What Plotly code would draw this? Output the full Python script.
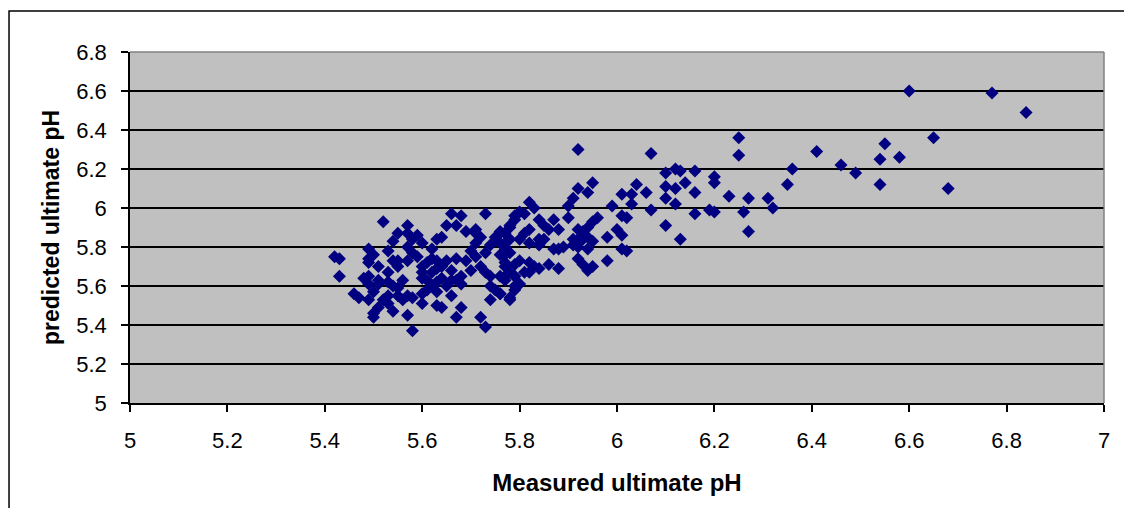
import plotly.graph_objects as go

# Measured ultimate pH (x) and predicted ultimate pH (y)
measured_ph = [
    6.60, 6.77, 6.84, 6.25, 6.25, 6.65, 6.55, 6.54, 6.58, 6.54, 6.68, 6.41, 6.46, 6.49, 6.36, 6.35,
    6.31, 6.32, 6.27, 6.26, 6.27, 6.23, 6.19, 6.20, 6.16, 6.16, 6.20, 6.20, 6.16, 6.14, 6.13, 6.13,
    5.92, 6.07, 6.12, 6.10, 6.10, 6.12, 6.10, 6.12, 6.10, 6.04, 6.06, 6.03, 6.03, 6.01, 6.07, 5.99,
    6.01, 6.02, 6.00, 6.01, 6.01, 6.02, 5.95, 5.92, 5.94, 5.91, 5.90, 5.90,
    5.82, 5.83, 5.81, 5.80, 5.79, 5.78, 5.77,
    5.87, 5.88, 5.96, 5.95, 5.94, 5.93,
    5.92, 5.94, 5.95, 5.93, 5.92, 5.91, 5.91, 5.92, 5.94, 5.98,
    5.92, 5.93, 5.94, 5.95, 5.98,
    5.86, 5.88, 5.87, 5.88, 5.89,
    5.84, 5.85, 5.86, 5.85, 5.84, 5.82, 5.81, 5.80, 5.82, 5.84,
    5.80, 5.82, 5.83, 5.84, 5.82, 5.81, 5.79, 5.80, 5.79, 5.78, 5.77, 5.77, 5.78, 5.76, 5.77, 5.77, 5.76,
    5.52, 5.42, 5.43, 5.43, 5.66, 5.68, 5.73, 5.65, 5.67, 5.69, 5.71,
    5.57, 5.57, 5.55, 5.59, 5.60, 5.58, 5.63, 5.64, 5.62,
    5.54, 5.53, 5.49, 5.50, 5.49, 5.49, 5.51,
    5.57, 5.58, 5.59, 5.57, 5.55, 5.55, 5.54, 5.53,
    5.60, 5.61, 5.62, 5.63, 5.63, 5.62, 5.60, 5.60, 5.61,
    5.64, 5.65, 5.66, 5.64, 5.63, 5.62, 5.61, 5.60, 5.63, 5.65, 5.66,
    5.67, 5.69, 5.70, 5.68, 5.67, 5.68,
    5.66, 5.64, 5.63, 5.60, 5.58, 5.57, 5.56, 5.55,
    5.68, 5.67, 5.72, 5.73, 5.58,
    5.57, 5.54, 5.53, 5.50, 5.50, 5.51, 5.52, 5.53,
    5.46, 5.47, 5.49, 5.50, 5.49, 5.48, 5.49, 5.51, 5.51, 5.53, 5.54, 5.55, 5.56,
    5.74, 5.73, 5.71, 5.72, 5.73, 5.74, 5.74, 5.75, 5.76, 5.74, 5.78, 5.79, 5.77, 5.76, 5.77, 5.76,
    5.76, 5.77, 5.78, 5.78, 5.79, 5.79,
    5.70, 5.71, 5.71, 5.72, 5.75, 5.76, 5.78, 5.79,
]
predicted_ph = [
    6.60, 6.59, 6.49, 6.36, 6.27, 6.36, 6.33, 6.25, 6.26, 6.12, 6.10, 6.29, 6.22, 6.18, 6.20, 6.12,
    6.05, 6.00, 6.05, 5.98, 5.88, 6.06, 5.99, 5.98, 5.97, 6.08, 6.16, 6.13, 6.19, 6.13, 6.19, 5.84,
    6.30, 6.28, 6.20, 6.18, 6.11, 6.10, 6.05, 6.02, 5.91, 6.12, 6.08, 6.07, 6.02, 6.07, 5.99, 6.01,
    5.96, 5.95, 5.89, 5.86, 5.79, 5.78, 6.13, 6.10, 6.08, 6.05, 6.01, 5.95,
    6.03, 6.00, 5.97, 5.98, 5.94, 5.90, 5.87,
    5.94, 5.89, 5.95, 5.93, 5.90, 5.88,
    5.89, 5.85, 5.83, 5.84, 5.84, 5.84, 5.81, 5.80, 5.79, 5.85,
    5.74, 5.71, 5.68, 5.70, 5.73,
    5.71, 5.69, 5.79, 5.79, 5.80,
    5.94, 5.91, 5.89, 5.84, 5.84, 5.89, 5.87, 5.84, 5.82, 5.81,
    5.73, 5.72, 5.70, 5.69, 5.67, 5.67, 5.65, 5.61, 5.60, 5.67, 5.70, 5.65, 5.53, 5.56, 5.76, 5.82, 5.87,
    5.93, 5.75, 5.74, 5.65, 5.97, 5.96, 5.97, 5.91, 5.91, 5.88, 5.89,
    5.91, 5.87, 5.87, 5.86, 5.82, 5.84, 5.84, 5.85, 5.79,
    5.83, 5.78, 5.79, 5.76, 5.74, 5.72, 5.70,
    5.80, 5.77, 5.75, 5.73, 5.70, 5.73, 5.73, 5.67,
    5.70, 5.72, 5.74, 5.73, 5.69, 5.67, 5.67, 5.64, 5.63,
    5.70, 5.73, 5.68, 5.64, 5.62, 5.60, 5.58, 5.56, 5.57, 5.60, 5.63,
    5.74, 5.73, 5.68, 5.65, 5.63, 5.61,
    5.55, 5.49, 5.50, 5.51, 5.54, 5.55, 5.63, 5.59,
    5.49, 5.44, 5.44, 5.39, 5.37,
    5.45, 5.47, 5.51, 5.46, 5.44, 5.49, 5.53, 5.55,
    5.56, 5.54, 5.53, 5.57, 5.61, 5.64, 5.65, 5.63, 5.61, 5.62, 5.60, 5.55, 5.53,
    5.81, 5.77, 5.75, 5.70, 5.67, 5.65, 5.60, 5.58, 5.56, 5.53, 5.54, 5.58, 5.63, 5.65, 5.72, 5.76,
    5.82, 5.80, 5.84, 5.77, 5.71, 5.65,
    5.78, 5.82, 5.87, 5.85, 5.85, 5.88, 5.91, 5.96,
]

x_tick_vals = [5, 5.2, 5.4, 5.6, 5.8, 6, 6.2, 6.4, 6.6, 6.8, 7]
x_tick_text = ["5", "5.2", "5.4", "5.6", "5.8", "6", "6.2", "6.4", "6.6", "6.8", "7"]
y_tick_vals = [5, 5.2, 5.4, 5.6, 5.8, 6, 6.2, 6.4, 6.6, 6.8]
y_tick_text = ["5", "5.2", "5.4", "5.6", "5.8", "6", "6.2", "6.4", "6.6", "6.8"]

FONT = "Liberation Sans, Arial, sans-serif"

fig = go.Figure()
fig.add_trace(go.Scatter(
    x=measured_ph, y=predicted_ph, mode="markers",
    marker=dict(symbol="diamond", size=10, color="#000080", line=dict(width=0)),
    showlegend=False, hoverinfo="x+y",
))

fig.update_layout(
    width=1116, height=500,
    margin=dict(l=122, r=20, t=44, b=105),
    paper_bgcolor="white", plot_bgcolor="#C0C0C0",
    font=dict(family=FONT, color="black"),
    xaxis=dict(
        range=[5, 7], tickvals=x_tick_vals, ticktext=x_tick_text,
        ticks="outside", ticklen=7, tickwidth=1.5, tickcolor="black",
        ticklabelstandoff=10,
        showline=True, linecolor="black", linewidth=1.5,
        showgrid=False, zeroline=False,
        tickfont=dict(family=FONT, size=22, color="black"),
        title=dict(text="<b>Measured ultimate pH</b>", standoff=22,
                   font=dict(family=FONT, size=24, color="black")),
    ),
    yaxis=dict(
        range=[5, 6.8], tickvals=y_tick_vals, ticktext=y_tick_text,
        ticks="outside", ticklen=7, tickwidth=1.5, tickcolor="black",
        ticklabelstandoff=10,
        showline=True, linecolor="black", linewidth=1.5,
        showgrid=True, gridcolor="black", gridwidth=1.5, zeroline=False,
        tickfont=dict(family=FONT, size=22, color="black"),
        title=dict(text="<b>predicted ultimate pH</b>", standoff=10,
                   font=dict(family=FONT, size=23, color="black")),
    ),
    shapes=[
        dict(type="line", xref="paper", yref="paper", x0=0, x1=1, y0=1, y1=1,
             line=dict(color="#808080", width=1.5), layer="above"),
        dict(type="line", xref="paper", yref="paper", x0=1, x1=1, y0=0, y1=1,
             line=dict(color="#808080", width=1.5), layer="above"),
        dict(type="rect", xref="paper", yref="paper", x0=-0.1242, x1=1.06, y0=-0.40, y1=1.1168,
             line=dict(color="black", width=1.5), fillcolor="rgba(0,0,0,0)", layer="above"),
    ],
)

fig.write_html("out.html")
